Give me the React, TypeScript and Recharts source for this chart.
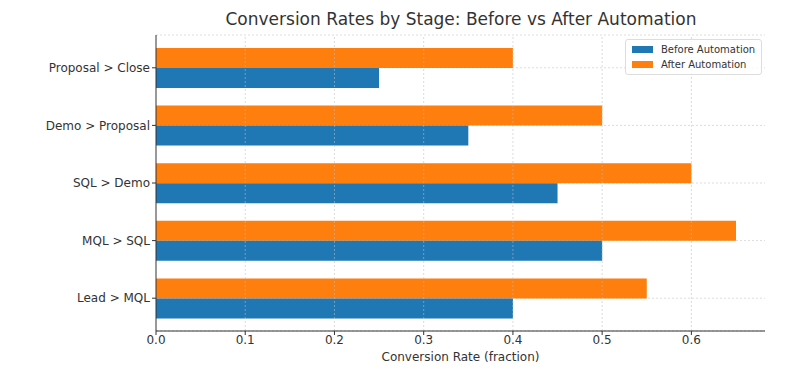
import React from 'react';
import { BarChart, Bar, XAxis, YAxis, CartesianGrid, Legend, ReferenceLine } from 'recharts';

const stages = ['Proposal > Close', 'Demo > Proposal', 'SQL > Demo', 'MQL > SQL', 'Lead > MQL'];
const beforeRates = [0.25, 0.35, 0.45, 0.5, 0.4];
const afterRates = [0.4, 0.5, 0.6, 0.65, 0.55];
const xTicks = [0, 0.1, 0.2, 0.3, 0.4, 0.5, 0.6];

const BLUE = '#1f77b4';
const ORANGE = '#ff7f0e';
const FONT = 'DejaVu Sans, sans-serif';

const data = stages.map((s, i) => ({ stage: s, before: beforeRates[i], after: afterRates[i] }));

const legendItems = [
  { label: 'Before Automation', color: BLUE },
  { label: 'After Automation', color: ORANGE },
];

const CustomLegend = () => (
  <div
    style={{
      border: '1px solid #ddd',
      borderRadius: 3,
      background: 'rgba(255,255,255,0.8)',
      padding: '2px 6px',
      fontFamily: FONT,
      fontSize: 10,
      color: '#333',
      lineHeight: '15px',
      whiteSpace: 'nowrap',
    }}
  >
    {legendItems.map((it) => (
      <div key={it.label} style={{ display: 'flex', alignItems: 'center' }}>
        <span style={{ display: 'inline-block', width: 21, height: 7, background: it.color, marginRight: 8 }} />
        <span>{it.label}</span>
      </div>
    ))}
  </div>
);

export default function App() {
  return (
    <div style={{ position: 'absolute', left: 0, top: 0, width: 800, height: 370, background: '#fff' }}>
      <div
        style={{
          position: 'absolute',
          left: 156,
          width: 610,
          top: 9,
          textAlign: 'center',
          fontFamily: FONT,
          fontSize: 17,
          color: '#333',
        }}
      >
        Conversion Rates by Stage: Before vs After Automation
      </div>
      <BarChart
        width={800}
        height={370}
        data={data}
        layout="vertical"
        margin={{ top: 35, right: 35, bottom: 0, left: 0 }}
        barGap={0}
        barSize={20}
      >
        <CartesianGrid stroke="#dcdcdc" strokeDasharray="2 2" vertical={false} />
        <XAxis
          type="number"
          domain={[0, 0.6825]}
          ticks={xTicks}
          tickFormatter={(v: number) => v.toFixed(1)}
          axisLine={{ stroke: '#333' }}
          tickLine={{ stroke: '#333' }}
          tickSize={4}
          tickMargin={0}
          tick={{ fill: '#333', fontSize: 12, fontFamily: FONT }}
          height={39}
          allowDataOverflow
          label={{
            value: 'Conversion Rate (fraction)',
            position: 'insideBottom',
            offset: 9,
            fill: '#333',
            fontSize: 12,
            fontFamily: FONT,
          }}
        />
        <YAxis
          type="category"
          dataKey="stage"
          width={156}
          padding={{ top: 4, bottom: 4 }}
          axisLine={{ stroke: '#333' }}
          tickLine={{ stroke: '#333' }}
          tickSize={4}
          tickMargin={2}
          tick={{ fill: '#333', fontSize: 12, fontFamily: FONT }}
        />
        <Legend
          layout="vertical"
          verticalAlign="middle"
          align="center"
          wrapperStyle={{ left: 625, top: 39, width: 'auto', height: 'auto' }}
          content={<CustomLegend />}
        />
        <Bar dataKey="after" name="After Automation" fill={ORANGE} isAnimationActive={false} />
        <Bar dataKey="before" name="Before Automation" fill={BLUE} isAnimationActive={false} />
        {xTicks.slice(1).map((t) => (
          <ReferenceLine key={t} x={t} stroke="rgba(190,190,190,0.55)" strokeDasharray="2 2" />
        ))}
      </BarChart>
    </div>
  );
}
